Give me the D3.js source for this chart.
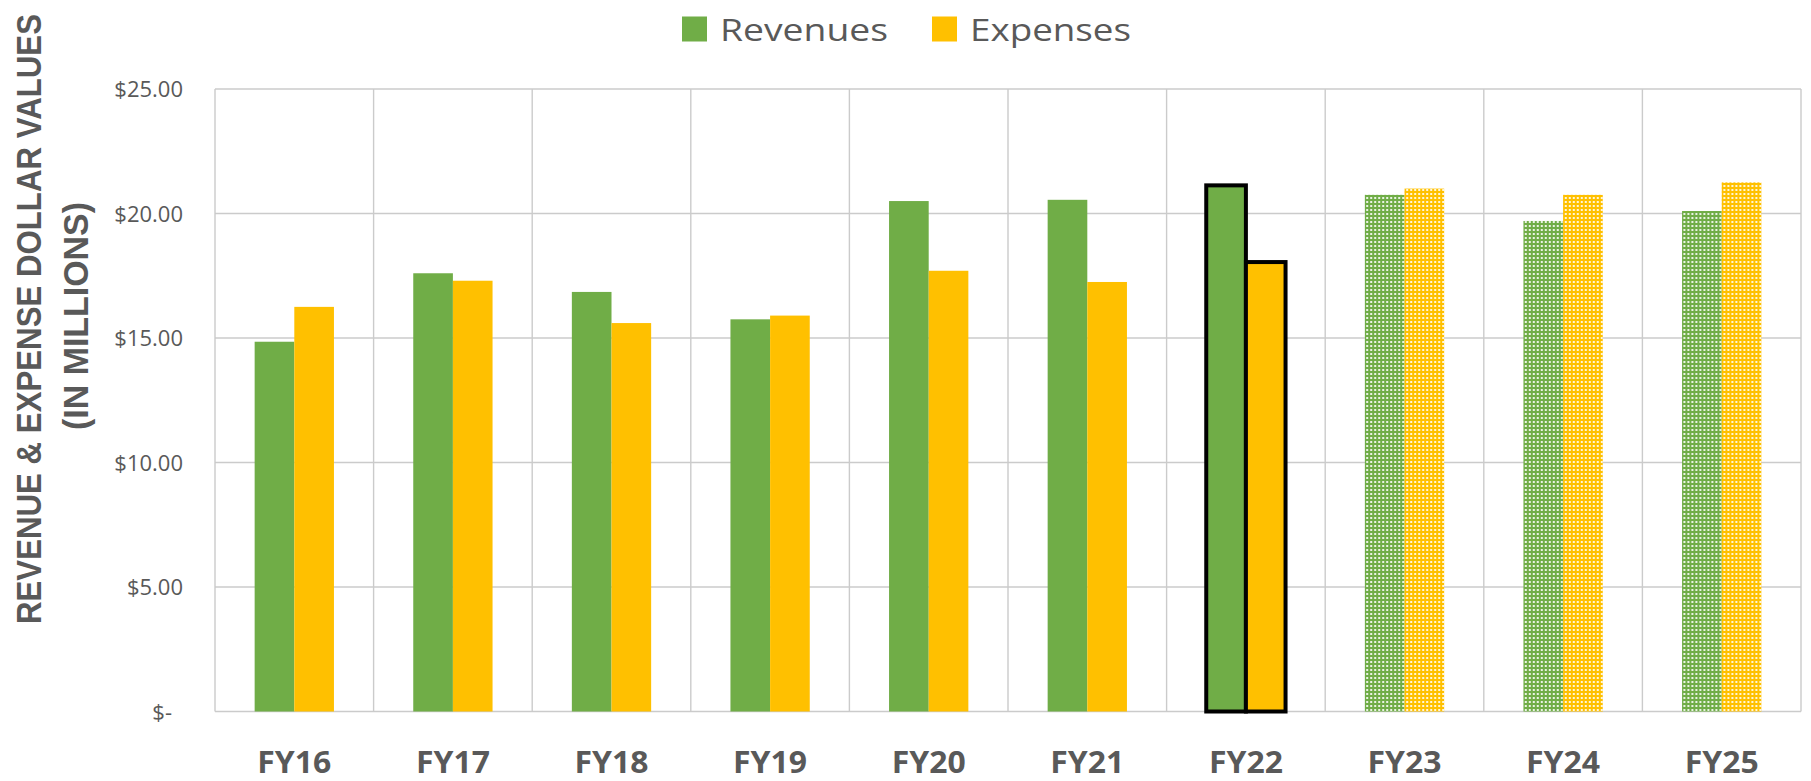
<!DOCTYPE html>
<html>
<head>
<meta charset="utf-8">
<script src="https://cdn.jsdelivr.net/npm/d3@7"></script>
<style>
	body { margin: 0; background: #fff; }
	svg { display: block; }
</style>
</head>
<body>
<svg id="chart" width="1811" height="781"></svg>
<script>
// chart values (millions of dollars)
var years = ["FY16", "FY17", "FY18", "FY19", "FY20", "FY21", "FY22", "FY23", "FY24", "FY25"];
var revenues = [14.85, 17.6, 16.85, 15.75, 20.5, 20.55, 21.13, 20.75, 19.7, 20.1];
var expenses = [16.25, 17.3, 15.6, 15.9, 17.7, 17.25, 18.05, 21.0, 20.75, 21.25];
var yTicks = [0, 5, 10, 15, 20, 25];
var highlighted = ["FY22"];
var projected = ["FY23", "FY24", "FY25"];
var seriesNames = ["Revenues", "Expenses"];
var seriesColors = ["#70AD47", "#FFC000"];

var svg = d3.select("#chart");
var textColor = "#595959",
	gridColor = "#cbcbcb";

var plot = {left: 215, right: 1801, top: 89, bottom: 711.5};

var xscale = d3.scaleBand()
	.domain(years)
	.range([plot.left, plot.right])
	.padding(0);

var inner = d3.scaleBand()
	.domain(seriesNames)
	.range([0, xscale.bandwidth()])
	.paddingInner(0)
	.paddingOuter(1);

var yscale = d3.scaleLinear()
	.domain([0, 25])
	.range([plot.bottom, plot.top]);

// dotted fill for the forecast years
var defs = svg.append("defs");
seriesNames.forEach(function (name, i) {
	var p = defs.append("pattern")
		.attr("id", "dots-" + i)
		.attr("patternUnits", "userSpaceOnUse")
		.attr("width", 4)
		.attr("height", 4);
	p.append("rect")
		.attr("width", 4)
		.attr("height", 4)
		.attr("fill", seriesColors[i]);
	p.append("rect")
		.attr("x", 1)
		.attr("y", 1)
		.attr("width", 2)
		.attr("height", 2)
		.attr("fill", "#fff")
		.attr("opacity", 0.85);
});

// gridlines
var grid = svg.append("g").attr("class", "grid");
grid.selectAll(".hgrid")
	.data(yTicks)
	.enter().append("line")
	.attr("x1", plot.left)
	.attr("x2", plot.right)
	.attr("y1", function (d) { return yscale(d); })
	.attr("y2", function (d) { return yscale(d); })
	.attr("stroke", gridColor)
	.attr("stroke-width", 1.4);

var bounds = years.map(function (d) { return xscale(d); }).concat([plot.right]);
grid.selectAll(".vgrid")
	.data(bounds)
	.enter().append("line")
	.attr("x1", function (d) { return d; })
	.attr("x2", function (d) { return d; })
	.attr("y1", plot.top)
	.attr("y2", plot.bottom)
	.attr("stroke", gridColor)
	.attr("stroke-width", 1.4);

// y axis labels
var yAxis = d3.axisLeft(yscale)
	.tickValues(yTicks)
	.tickSize(0)
	.tickPadding(0)
	.tickFormat(function (d) {
		return d === 0 ? "$-" : "$" + d.toFixed(2);
	});

var yg = svg.append("g")
	.attr("transform", "translate(183,0)")
	.call(yAxis);
yg.select(".domain").remove();
yg.selectAll("text")
	.attr("fill", textColor)
	.attr("font-family", "'Open Sans', sans-serif")
	.attr("font-size", 22)
	.attr("dy", "0.36em")
	.attr("dx", function (d) { return d === 0 ? -11 : 0; });

// x axis labels
var xAxis = d3.axisBottom(xscale)
	.tickSize(0)
	.tickPadding(0);

var xg = svg.append("g")
	.attr("transform", "translate(0,773)")
	.call(xAxis);
xg.select(".domain").remove();
xg.selectAll("text")
	.attr("fill", textColor)
	.attr("font-family", "'Noto Sans', 'Open Sans', sans-serif")
	.attr("font-weight", "bold")
	.attr("font-size", 30)
	.attr("textLength", 74)
	.attr("lengthAdjust", "spacingAndGlyphs")
	.attr("dy", 0);

// bars
var rows = years.map(function (y, i) {
	return {year: y, values: [revenues[i], expenses[i]]};
});

var groups = svg.append("g").attr("class", "bars")
	.selectAll("g")
	.data(rows)
	.enter().append("g")
	.attr("transform", function (d) { return "translate(" + xscale(d.year) + ",0)"; });

groups.selectAll("rect")
	.data(function (d) {
		return d.values.map(function (v, i) {
			return {year: d.year, name: seriesNames[i], idx: i, value: v};
		});
	})
	.enter().append("rect")
	.attr("x", function (d) { return inner(d.name); })
	.attr("width", inner.bandwidth())
	.attr("y", function (d) { return yscale(d.value); })
	.attr("height", function (d) { return yscale(0) - yscale(d.value); })
	.attr("fill", function (d) {
		if (projected.indexOf(d.year) >= 0) return "url(#dots-" + d.idx + ")";
		return seriesColors[d.idx];
	})
	.attr("stroke", function (d) { return highlighted.indexOf(d.year) >= 0 ? "#000" : "none"; })
	.attr("stroke-width", 4);

// legend
var legend = svg.append("g").attr("class", "legend");
var legendItems = [
	{name: seriesNames[0], box: 682, text: 720, width: 168},
	{name: seriesNames[1], box: 932, text: 970, width: 161}
];
legendItems.forEach(function (it, i) {
	legend.append("rect")
		.attr("x", it.box)
		.attr("y", 16.5)
		.attr("width", 25)
		.attr("height", 25)
		.attr("fill", seriesColors[i]);
	legend.append("text")
		.attr("x", it.text)
		.attr("y", 41)
		.attr("fill", textColor)
		.attr("font-family", "'Open Sans', sans-serif")
		.attr("font-size", 31)
		.attr("textLength", it.width)
		.attr("lengthAdjust", "spacingAndGlyphs")
		.text(it.name);
});

// y axis title, two lines rotated
var title = svg.append("g")
	.attr("fill", textColor)
	.attr("font-family", "'Liberation Sans Narrow', 'Liberation Sans', sans-serif")
	.attr("font-weight", "bold")
	.attr("font-size", 35)
	.attr("text-anchor", "middle");

title.append("text")
	.attr("transform", "translate(41,319) rotate(-90)")
	.attr("textLength", 610)
	.attr("lengthAdjust", "spacingAndGlyphs")
	.text("REVENUE & EXPENSE DOLLAR VALUES");

title.append("text")
	.attr("transform", "translate(88,316) rotate(-90)")
	.attr("textLength", 228)
	.attr("lengthAdjust", "spacingAndGlyphs")
	.text("(IN MILLIONS)");
</script>
</body>
</html>
